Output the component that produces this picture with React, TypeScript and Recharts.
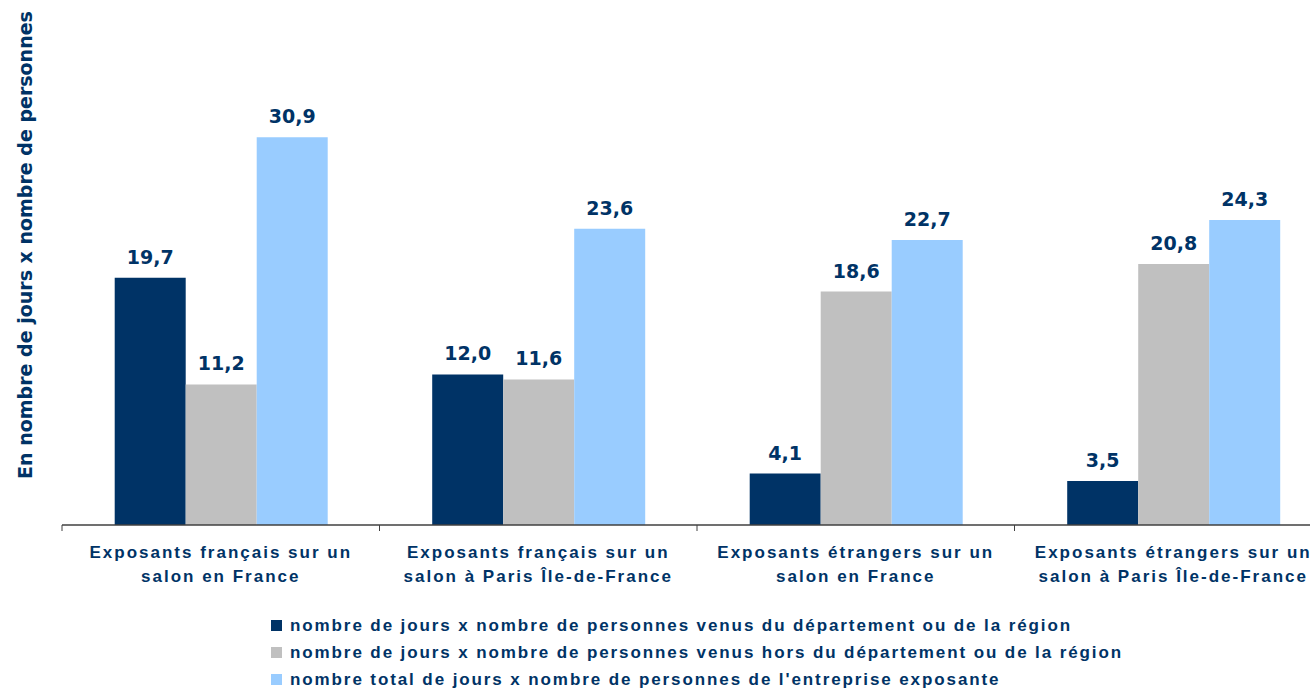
import React from 'react';
import { BarChart, Bar, XAxis, YAxis, LabelList, Legend } from 'recharts';

// Catégories (retour à la ligne marqué par "|")
const categories = [
  'Exposants français sur un|salon en France',
  'Exposants français sur un|salon à Paris Île-de-France',
  'Exposants étrangers sur un|salon en France',
  'Exposants étrangers sur un|salon à Paris Île-de-France',
];

const regionValues = [19.7, 12.0, 4.1, 3.5];
const horsRegionValues = [11.2, 11.6, 18.6, 20.8];
const totalValues = [30.9, 23.6, 22.7, 24.3];

const seriesNames = [
  'nombre de jours x nombre de personnes venus du département ou de la région',
  'nombre de jours x nombre de personnes venus hors du département ou de la région',
  "nombre total de jours x nombre de personnes de l'entreprise exposante",
];
const seriesColors = ['#003366', '#C0C0C0', '#99CCFF'];

const yAxisTitle = 'En nombre de jours x nombre de personnes';

const data = categories.map((name, i) => ({
  name,
  region: regionValues[i],
  horsRegion: horsRegionValues[i],
  total: totalValues[i],
}));

const CHART_W = 1340;
const CHART_H = 688;
const MARGIN = { top: 23, right: 8, left: 62, bottom: 103 };
const BAND = (CHART_W - MARGIN.left - MARGIN.right) / categories.length;
const NAVY = '#003366';
const ARIAL = "'Liberation Sans', Arial, sans-serif";
const VERDANA = "'DejaVu Sans', Verdana, sans-serif";

const fmt = (v: any) => Number(v).toFixed(1).replace('.', ',');

function CategoryTick(props: any) {
  const { x, y, payload, index } = props;
  const half = BAND / 2;
  const lines = String(payload.value).split('|');
  return (
    <g>
      <line x1={x - half} y1={y - 6} x2={x - half} y2={y} stroke="#404040" />
      {index === categories.length - 1 && (
        <line x1={x + half} y1={y - 6} x2={x + half} y2={y} stroke="#404040" />
      )}
      <text
        x={x}
        y={y}
        textAnchor="middle"
        fill={NAVY}
        fontFamily={ARIAL}
        fontWeight="bold"
        fontSize={17}
        letterSpacing={2}
      >
        {lines.map((l, i) => (
          <tspan key={i} x={x} dy={i === 0 ? 27 : 24}>
            {l}
          </tspan>
        ))}
      </text>
    </g>
  );
}

function renderLegend() {
  return (
    <div>
      {seriesNames.map((n, i) => (
        <div key={i} style={{ display: 'flex', alignItems: 'center', height: 27 }}>
          <div style={{ width: 11, height: 11, background: seriesColors[i], marginRight: 8, flexShrink: 0 }} />
          <span
            style={{
              fontFamily: ARIAL,
              fontWeight: 'bold',
              fontSize: 17,
              letterSpacing: 1.9,
              color: NAVY,
              whiteSpace: 'nowrap',
              lineHeight: '27px',
            }}
          >
            {n}
          </span>
        </div>
      ))}
    </div>
  );
}

export default function App() {
  return (
    <div
      style={{
        position: 'fixed',
        left: 0,
        top: 0,
        width: 1310,
        height: 688,
        overflow: 'hidden',
        background: '#fff',
      }}
    >
      <BarChart width={CHART_W} height={CHART_H} data={data} margin={MARGIN} barCategoryGap="16.6%" barGap={0}>
        <XAxis
          dataKey="name"
          axisLine={{ stroke: '#404040', strokeWidth: 1.5 }}
          tickLine={false}
          tickSize={6}
          tickMargin={0}
          height={60}
          interval={0}
          tick={<CategoryTick />}
        />
        <YAxis hide domain={[0, 40]} />
        <Legend
          layout="vertical"
          align="center"
          verticalAlign="middle"
          wrapperStyle={{ left: 271, top: 612, width: 1030, height: 81 }}
          content={renderLegend}
        />
        <Bar dataKey="region" name={seriesNames[0]} fill={seriesColors[0]} isAnimationActive={false}>
          <LabelList dataKey="region" position="top" offset={14} formatter={fmt}
            fill={NAVY} fontFamily={VERDANA} fontWeight="bold" fontSize={19} />
        </Bar>
        <Bar dataKey="horsRegion" name={seriesNames[1]} fill={seriesColors[1]} isAnimationActive={false}>
          <LabelList dataKey="horsRegion" position="top" offset={14} formatter={fmt}
            fill={NAVY} fontFamily={VERDANA} fontWeight="bold" fontSize={19} />
        </Bar>
        <Bar dataKey="total" name={seriesNames[2]} fill={seriesColors[2]} isAnimationActive={false}>
          <LabelList dataKey="total" position="top" offset={14} formatter={fmt}
            fill={NAVY} fontFamily={VERDANA} fontWeight="bold" fontSize={19} />
        </Bar>
        <text
          x={25}
          y={245}
          transform="rotate(-90, 25, 245)"
          textAnchor="middle"
          dominantBaseline="central"
          fill={NAVY}
          fontFamily={VERDANA}
          fontWeight="bold"
          fontSize={19}
        >
          {yAxisTitle}
        </text>
      </BarChart>
    </div>
  );
}
